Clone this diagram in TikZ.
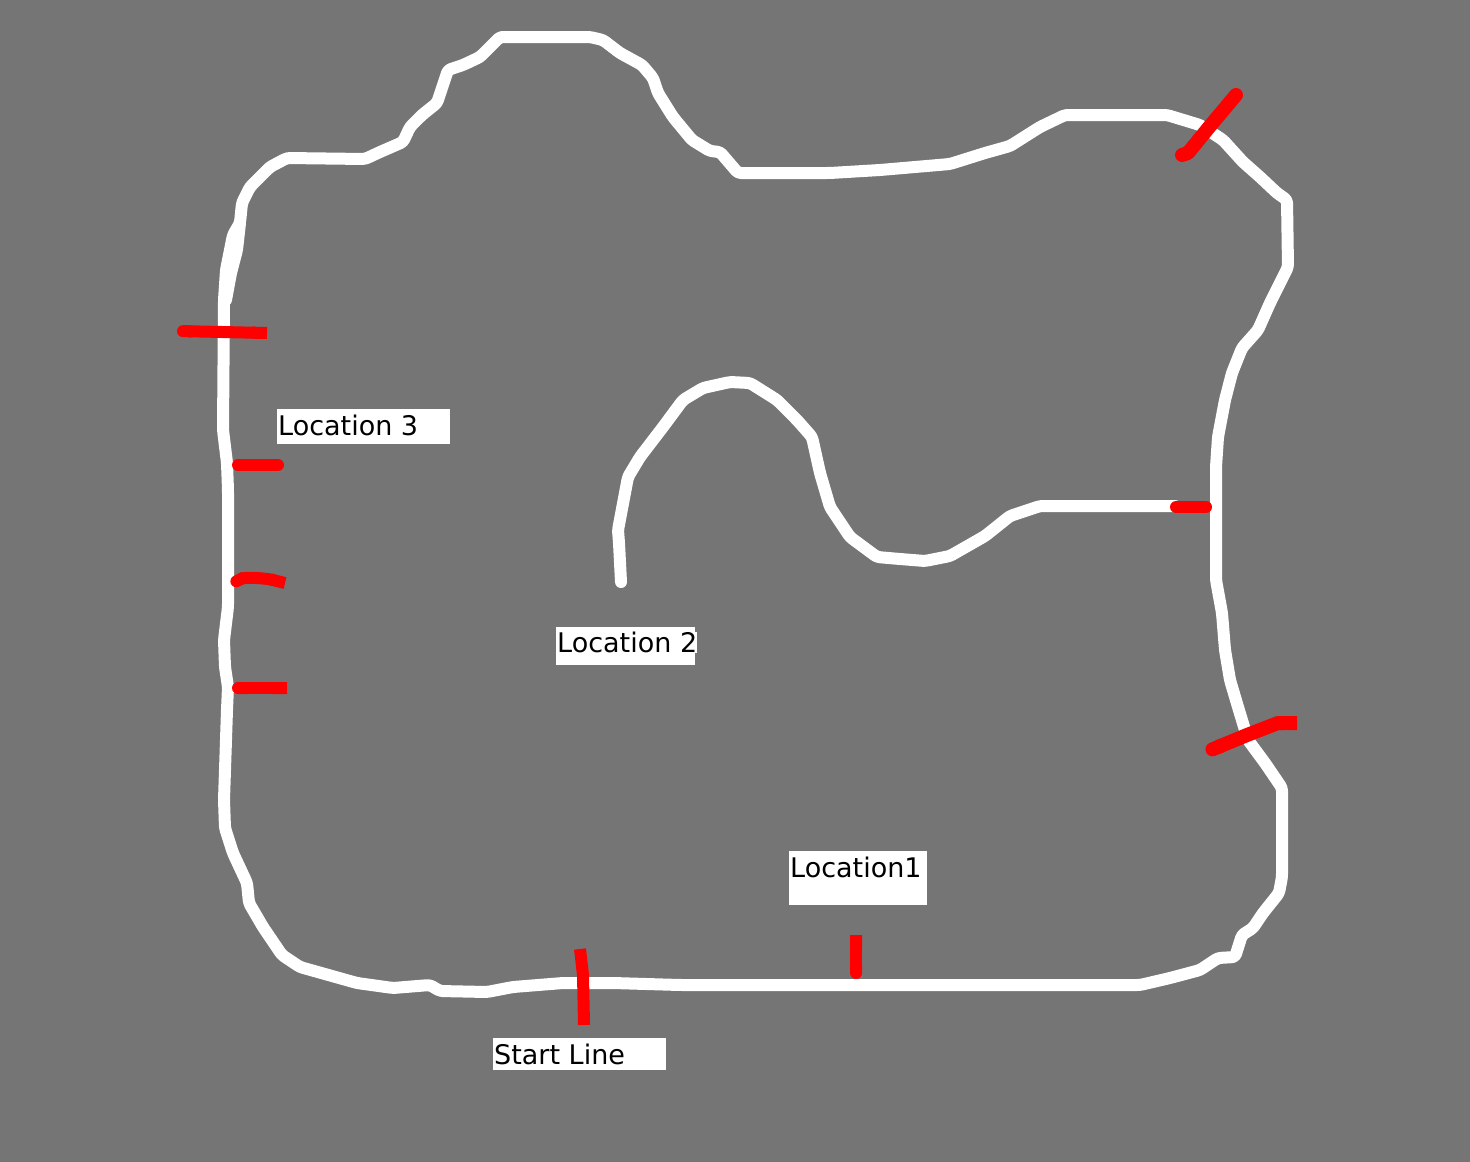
\documentclass[tikz,border=0pt]{standalone}
\usepackage{fontspec}
\setmainfont{DejaVu Sans}
\usetikzlibrary{positioning,arrows.meta}
\definecolor{ground}{RGB}{117,117,117}
\tikzset{
  track/.style={draw=white, line width=12pt, line join=round, line cap=round, rounded corners=3pt},
  mark line/.style={draw=red, line width=12pt, line join=round, line cap=round},
  mark end/.style={mark line, {Round Cap[]}-{Butt Cap[]}},
  mark flat/.style={mark line, line cap=butt},
  tag/.style={fill=white, text=black, font=\fontsize{27}{30}\selectfont, inner sep=0pt, anchor=north west, align=left}
}
\begin{document}
\begin{tikzpicture}[x=1pt,y=-1pt]
  \useasboundingbox (0,0) rectangle (1470,1162);
  \fill[ground] (0,0) rectangle (1470,1162);

 %outer loop
  \draw[track] (505,37) -- (590,37) -- (603,40) -- (620,53) -- (642,65) -- (653,78) -- (658,93) -- (673,117) -- (692,140) -- (710,151) -- (720,152) -- (738,173)
    -- (830,173) -- (880,170) -- (950,164) -- (985,153) -- (1010,146) -- (1040,127) -- (1065,115) -- (1167,115) -- (1200,125) -- (1223,140)
    -- (1243,162) -- (1260,177) -- (1277,193) -- (1287,200) -- (1288,267) -- (1278,287) -- (1270,303) -- (1258,330) -- (1242,348) -- (1232,373) -- (1225,400) -- (1218,437) -- (1216,467)
    -- (1216,580) -- (1222,613) -- (1225,650) -- (1230,680) -- (1238,707) -- (1248,740) -- (1265,763) -- (1282,788) -- (1282,877) -- (1279,893) -- (1263,913) -- (1253,928) -- (1242,935)
    -- (1235,957) -- (1218,958) -- (1200,970) -- (1170,978) -- (1140,985) -- (680,985) -- (613,983) -- (563,983) -- (513,987) -- (487,992) -- (440,991) -- (430,985) -- (393,988)
    -- (357,983) -- (300,967) -- (282,955) -- (263,927) -- (249,903) -- (247,883) -- (233,853) -- (225,828) -- (224,800) -- (227,710) -- (228,687) -- (225,667)
    -- (224,640) -- (228,607) -- (228,490) -- (227,463) -- (223,430) -- (224,300) -- (226,270) -- (233,235) -- (240,223) -- (242,203) -- (250,187) -- (270,167)
    -- (287,158) -- (365,159) -- (380,152) -- (403,142) -- (410,127) -- (422,115) -- (437,103) -- (443,85) -- (448,70) -- (463,65) -- (480,57) -- (500,37) -- cycle;
  \draw[track] (240,223) -- (237,250) -- (231,273) -- (226,300);

 %inner branch
  \draw[track] (1175,506) -- (1040,506) -- (1010,516) -- (985,536) -- (950,556) -- (925,561) -- (900,559) -- (877,557) -- (850,537) -- (830,507)
    -- (820,473) -- (812,437) -- (797,420) -- (777,400) -- (750,383) -- (730,382) -- (703,388) -- (683,400) -- (663,427) -- (640,457)
    -- (628,477) -- (618,530) -- (619,543) -- (621,582);

 %red marks
  \draw[mark end] (177,331) -- (267,333);
  \draw[mark line] (238,465) -- (278,465);
  \draw[mark end] (231,584) .. controls (245,577) and (265,578) .. (285,583);
  \draw[mark end] (232,688) -- (287,688);
  \draw[mark flat] (580,949) -- (583,975) -- (584,1025);
  \draw[mark end] (856,979) -- (856,935);
  \draw[mark line] (1176,507) -- (1206,507);
  \draw[mark end, line width=14pt] (1206,752) -- (1247,735) -- (1278,723) -- (1297,723);
  \draw[mark line, line width=14pt] (1182,155) -- (1188,153) -- (1210,126) -- (1236,95);

 %labels
  \node[tag, minimum width=173pt, minimum height=35pt] (loc3) at (277,409) {};
  \node[tag, right=1pt of loc3.west, anchor=west, yshift=1pt] (loc3text) {Location 3};
  \node[tag, minimum width=139pt, minimum height=38pt] (loc2) at (556,627) {};
  \node[tag, right=1pt of loc2.west, anchor=west, yshift=4pt] (loc2text) {Location 2};
  \node[tag, minimum width=138pt, minimum height=54pt] (loc1) at (789,851) {};
  \node[tag, anchor=west] (loc1text) at (790,867) {Location1};
  \node[tag, minimum width=173pt, minimum height=32pt] (start) at (493,1038) {};
  \node[tag, right=1pt of start.west, anchor=west] (starttext) {Start Line};
\end{tikzpicture}
\end{document}
